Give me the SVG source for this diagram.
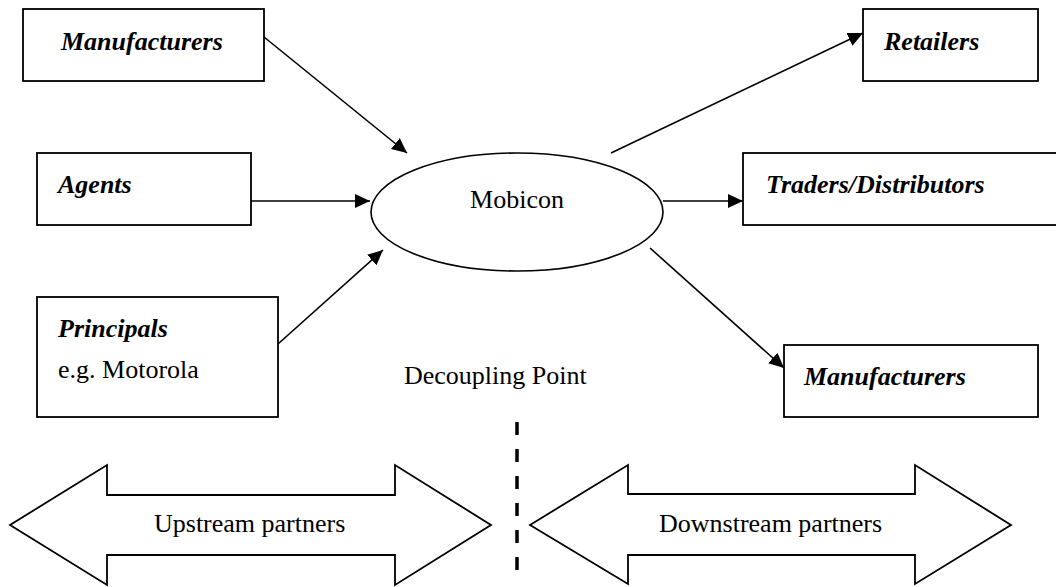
<svg xmlns="http://www.w3.org/2000/svg" width="1056" height="587" viewBox="0 0 1056 587">
<style>
.box{fill:#fff;stroke:#000;stroke-width:1.8}
.lbl{font-family:"Liberation Serif","Times New Roman",serif;font-size:26px;font-weight:bold;font-style:italic;fill:#000}
.txt{font-family:"Liberation Serif","Times New Roman",serif;font-size:26px;fill:#000}
.con{stroke:#000;stroke-width:1.6;fill:none}
</style>
<defs>
<marker id="ah" markerUnits="userSpaceOnUse" markerWidth="16" markerHeight="15" refX="15" refY="7" orient="auto">
<path d="M0,0 L15,7 L0,14 Z" fill="#000"/>
</marker>
</defs>
<rect width="1056" height="587" fill="#fff"/>
<g id="connectors">
<line class="con" x1="264" y1="37" x2="407" y2="153" marker-end="url(#ah)"/>
<line class="con" x1="251" y1="201" x2="370" y2="201" marker-end="url(#ah)"/>
<line class="con" x1="278" y1="344" x2="383" y2="250" marker-end="url(#ah)"/>
<line class="con" x1="611" y1="153" x2="863" y2="33" marker-end="url(#ah)"/>
<line class="con" x1="663" y1="201" x2="743" y2="201" marker-end="url(#ah)"/>
<line class="con" x1="650" y1="248" x2="784" y2="368" marker-end="url(#ah)"/>
</g>
<g id="manufacturers-up"><rect class="box" x="23" y="9" width="241" height="72"/><text class="lbl" x="61" y="50">Manufacturers</text></g>
<g id="agents"><rect class="box" x="37" y="153" width="214" height="72"/><text class="lbl" x="58" y="193">Agents</text></g>
<g id="principals"><rect class="box" x="37" y="297" width="241" height="120"/><text class="lbl" x="58" y="337">Principals</text><text class="txt" x="58" y="378">e.g. Motorola</text></g>
<g id="mobicon"><ellipse cx="517" cy="212" rx="146" ry="59" fill="#fff" stroke="#000" stroke-width="1.6"/><text class="txt" x="517" y="208" text-anchor="middle">Mobicon</text></g>
<g id="retailers"><rect class="box" x="863" y="9" width="175" height="72"/><text class="lbl" x="884" y="50">Retailers</text></g>
<g id="traders"><rect class="box" x="743" y="153" width="330" height="72"/><text class="lbl" x="766" y="193">Traders/Distributors</text></g>
<g id="manufacturers-down"><rect class="box" x="784" y="345" width="254" height="72"/><text class="lbl" x="804" y="385">Manufacturers</text></g>
<g id="decoupling"><text class="txt" x="404" y="384">Decoupling Point</text>
<line x1="517" y1="422" x2="517" y2="574" stroke="#000" stroke-width="3.5" stroke-dasharray="13 14"/></g>
<g id="upstream"><path class="box" d="M10,525 L107,465 L107,495 L395,495 L395,465 L491,525 L395,585 L395,555 L107,555 L107,585 Z"/><text class="txt" x="154" y="532">Upstream partners</text></g>
<g id="downstream"><path class="box" d="M530,525 L628,465 L628,494 L915,494 L915,465 L1011,525 L915,584 L915,555 L628,555 L628,584 Z"/><text class="txt" x="659" y="532">Downstream partners</text></g>
</svg>
